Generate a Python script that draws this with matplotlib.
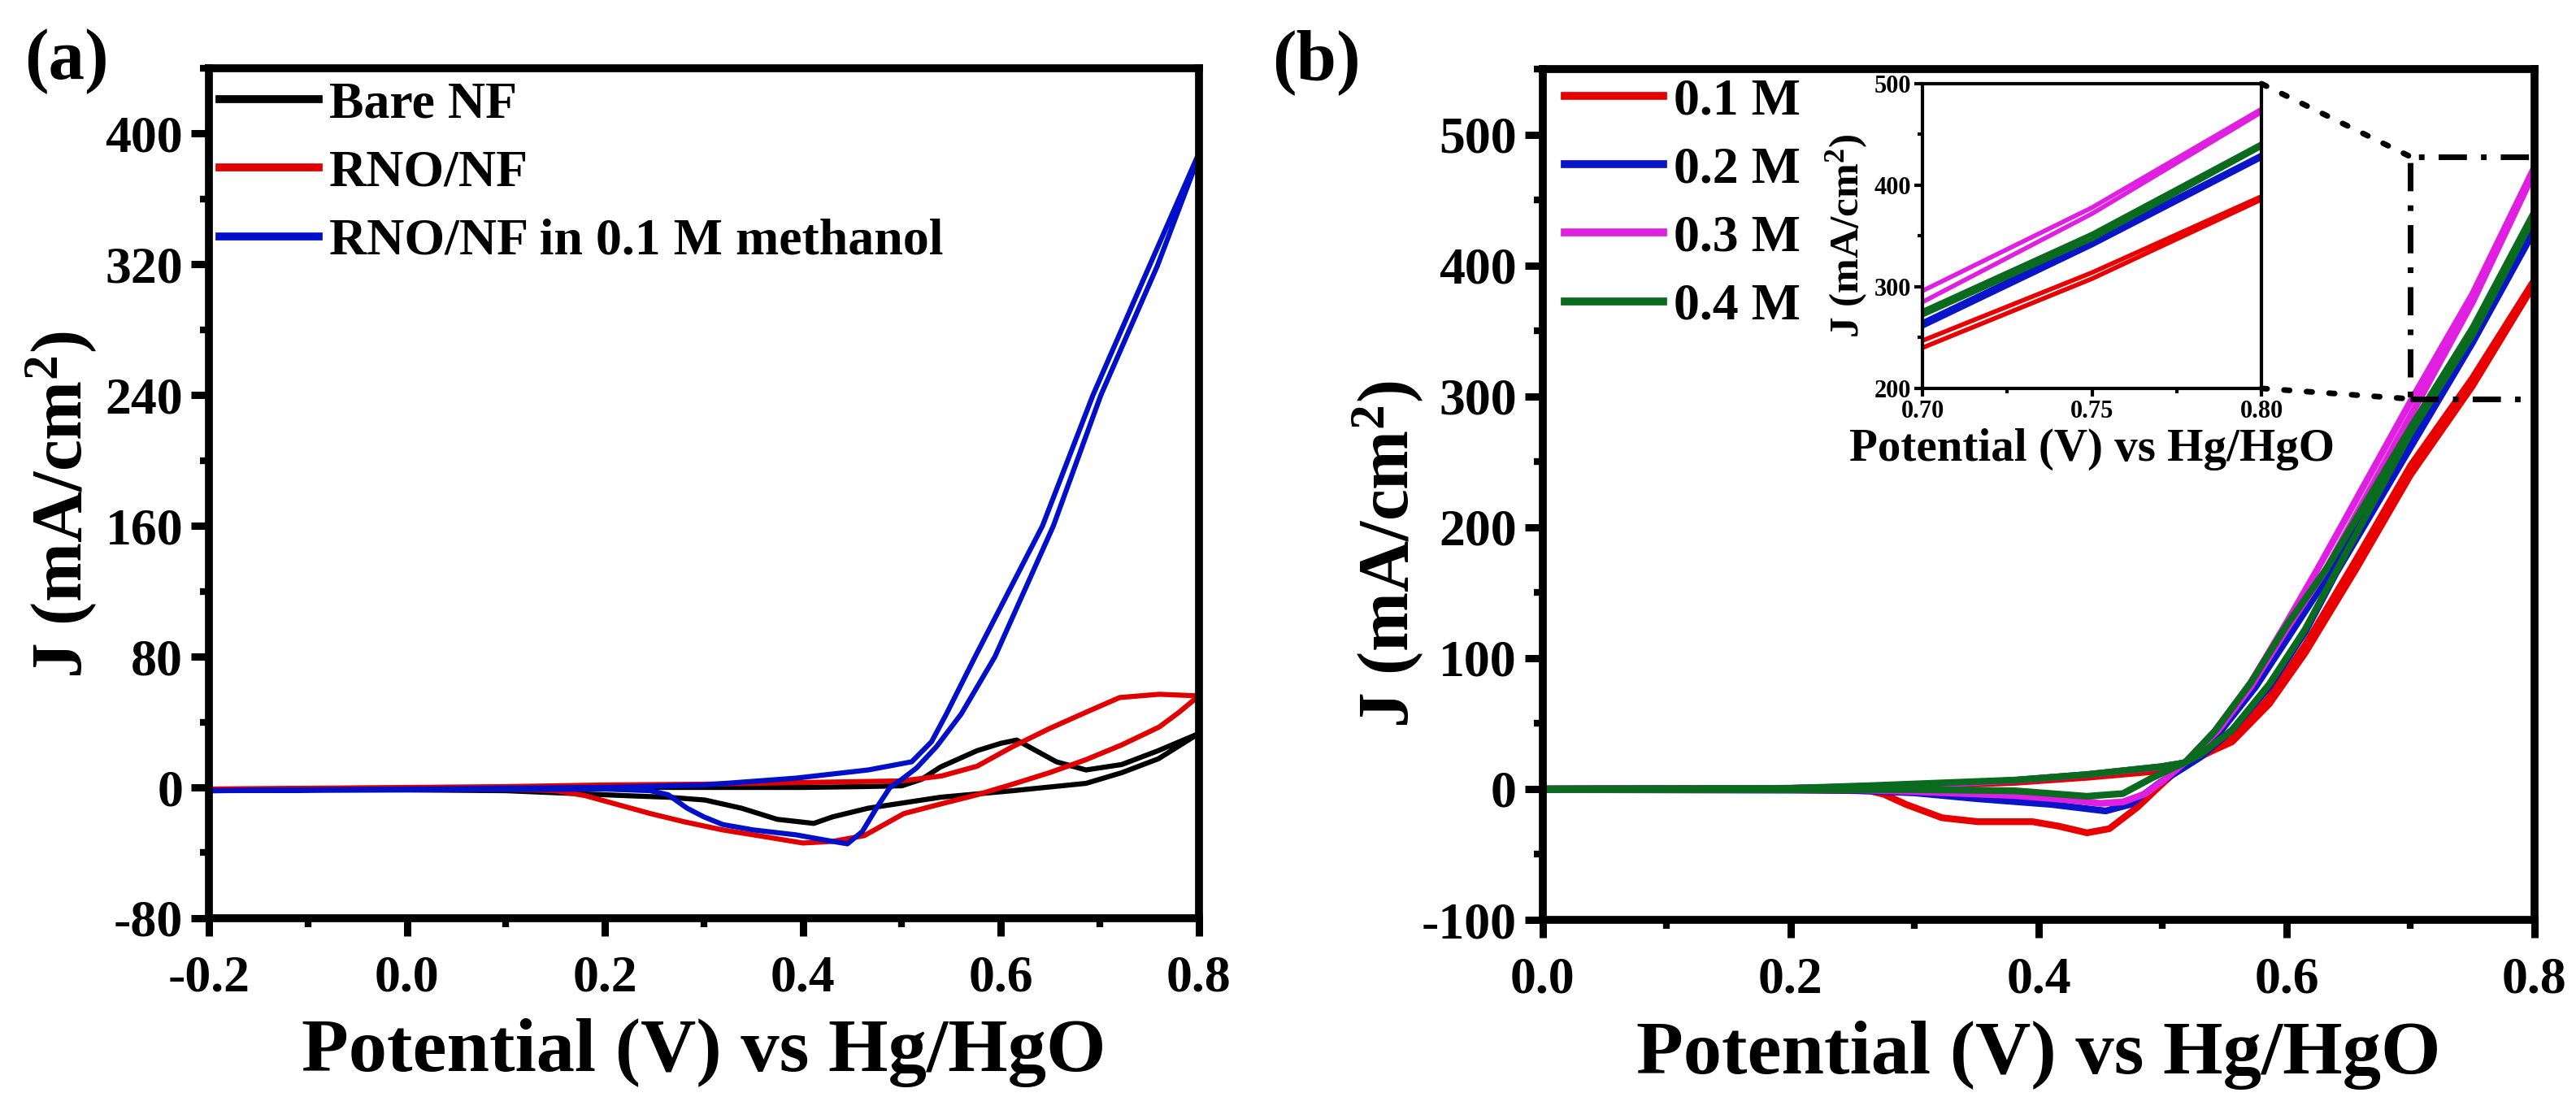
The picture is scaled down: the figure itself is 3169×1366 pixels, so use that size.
import matplotlib
matplotlib.use('Agg')
import matplotlib.pyplot as plt
from matplotlib.patches import Rectangle, ConnectionPatch
from matplotlib.ticker import MultipleLocator

plt.rcParams['font.family'] = ['Liberation Serif', 'DejaVu Serif']
plt.rcParams['font.weight'] = 'bold'
plt.rcParams['axes.unicode_minus'] = False
plt.rcParams['mathtext.fontset'] = 'custom'
plt.rcParams['mathtext.rm'] = 'Liberation Serif:bold'
plt.rcParams['mathtext.bf'] = 'Liberation Serif:bold'
plt.rcParams['mathtext.default'] = 'bf'

# ---- panel (a): CV curves, forward and reverse sweep ----
bare_v_fwd = [-0.2, 0.0, 0.2, 0.3, 0.4, 0.46, 0.5, 0.52, 0.539, 0.576, 0.6, 0.616, 0.631, 0.656, 0.686, 0.722, 0.759, 0.8]
bare_j_fwd = [-1.5, -0.5, 0, 0, 0, 0.5, 1, 5, 12.5, 22.5, 27, 29, 24, 15.7, 10.7, 14, 22.5, 33]
bare_v_rev = [0.8, 0.759, 0.722, 0.686, 0.612, 0.539, 0.466, 0.43, 0.411, 0.374, 0.338, 0.301, 0.264, 0.22, 0.1, 0.0, -0.2]
bare_j_rev = [33, 17.5, 9, 2.5, -2, -6, -12.7, -18, -22, -19.5, -12.7, -7.7, -6, -5, -2, -1.5, -1.5]

rno_v_fwd = [-0.2, 0.0, 0.1, 0.2, 0.3, 0.4, 0.5, 0.54, 0.576, 0.612, 0.649, 0.686, 0.72, 0.76, 0.8]
rno_j_fwd = [-1, 0, 0.5, 1.5, 2, 3, 4, 7, 13, 25, 36, 46, 55, 57, 56]
rno_v_rev = [0.8, 0.78, 0.76, 0.722, 0.686, 0.649, 0.612, 0.576, 0.54, 0.502, 0.462, 0.43, 0.4, 0.36, 0.319, 0.28, 0.246, 0.21, 0.18, 0.15, 0.1, 0.0, -0.2]
rno_j_rev = [56, 46, 37, 26, 17, 9, 2, -4.5, -10, -16, -29.5, -33, -34, -30, -26, -21, -16, -10, -5, -2, -1, -1, -1]

meoh_v_fwd = [-0.2, 0.0, 0.2, 0.3, 0.393, 0.466, 0.51, 0.53, 0.545, 0.574, 0.642, 0.693, 0.75, 0.8]
meoh_j_fwd = [-2, -1, 0, 1.5, 5.7, 10.7, 15.7, 28, 45, 80, 160, 240, 319, 388]
meoh_v_rev = [0.8, 0.758, 0.701, 0.653, 0.594, 0.56, 0.535, 0.515, 0.5, 0.488, 0.475, 0.46, 0.445, 0.43, 0.393, 0.35, 0.319, 0.3, 0.283, 0.264, 0.246, 0.2, 0.0, -0.2]
meoh_j_rev = [386, 319, 240, 160, 80, 45, 25, 12, 5, 0, -12, -27, -34.5, -33, -29, -26, -22.7, -18, -12.7, -4.5, -2, -1, -1.5, -2]

labels_a = ['Bare NF', 'RNO/NF', 'RNO/NF in 0.1 M methanol']
colors_a = ['black', '#e00000', '#0010c8']

# ---- panel (b): methanol concentrations ----
c1_v_fwd = [0.0, 0.2, 0.3, 0.38, 0.44, 0.5, 0.52, 0.556, 0.586, 0.615, 0.656, 0.7, 0.75, 0.8]
c1_j_fwd = [0, 0.5, 2, 5, 9, 14, 19, 38, 70, 110, 175, 247, 314, 389]
c1_v_rev = [0.8, 0.75, 0.7, 0.656, 0.615, 0.586, 0.556, 0.527, 0.515, 0.498, 0.48, 0.457, 0.439, 0.416, 0.395, 0.351, 0.322, 0.293, 0.275, 0.264, 0.2, 0.0]
c1_j_rev = [386, 308, 240, 168, 104, 65, 36, 23.6, 17, 2.5, -13.7, -30.4, -33.5, -28.4, -25, -25, -22, -11.8, -4, -1.5, -0.5, -0.5]

c2_v_fwd = [0.0, 0.2, 0.3, 0.38, 0.44, 0.5, 0.518, 0.545, 0.575, 0.6, 0.64, 0.7, 0.75, 0.8]
c2_j_fwd = [0, 0.5, 2.5, 6.5, 11, 17, 20, 42, 78, 114, 172, 265, 345, 430]
c2_v_rev = [0.8, 0.75, 0.7, 0.64, 0.615, 0.586, 0.556, 0.53, 0.515, 0.498, 0.474, 0.454, 0.41, 0.351, 0.3, 0.25, 0.0]
c2_j_rev = [427, 341, 261, 165, 120, 78, 45, 24, 15, 5, -11.8, -16.8, -11.8, -7.5, -3, -1, -0.5]

c3_v_fwd = [0.0, 0.2, 0.3, 0.38, 0.44, 0.5, 0.518, 0.542, 0.571, 0.6, 0.625, 0.7, 0.75, 0.8]
c3_j_fwd = [0, 0.5, 2.5, 6.5, 11, 17, 20, 44, 81, 127, 168, 296, 378, 475]
c3_v_rev = [0.8, 0.75, 0.7, 0.632, 0.6, 0.571, 0.545, 0.52, 0.5, 0.486, 0.468, 0.45, 0.42, 0.38, 0.3, 0.25, 0.0]
c3_j_rev = [472, 372, 285, 168, 122, 78, 45, 22, 6, -3.7, -9.9, -11, -8, -5, -2, -0.5, -0.5]

c4_v_fwd = [0.0, 0.2, 0.264, 0.381, 0.439, 0.498, 0.518, 0.542, 0.571, 0.6, 0.632, 0.7, 0.75, 0.8]
c4_j_fwd = [0, 0.5, 2.5, 6.8, 11, 17, 20, 44, 81, 125, 168, 276, 352, 441]
c4_v_rev = [0.8, 0.75, 0.7, 0.641, 0.615, 0.586, 0.556, 0.53, 0.515, 0.492, 0.468, 0.439, 0.381, 0.3, 0.0]
c4_j_rev = [438, 347, 272, 168, 122, 80, 45, 26, 19, 8.7, -3.5, -5.6, -1.4, -0.5, -0.5]

labels_b = ['0.1 M', '0.2 M', '0.3 M', '0.4 M']
colors_b = ['#e80000', '#0a14c8', '#e020e0', '#0a6a1e']

# zoom window shown by the inset
zoom_x = (0.70, 0.80)
zoom_box_j = (298, 483)

XLABEL = 'Potential (V) vs Hg/HgO'
YLABEL = 'J (mA/cm$^{2}$)'


def style_axes(ax):
    for s in ax.spines.values():
        s.set_linewidth(7)
    ax.tick_params(which='major', direction='out', length=16, width=6.5,
                   labelsize=46, top=False, right=False)
    ax.tick_params(which='minor', direction='out', length=8, width=6,
                   top=False, right=False)
    ax.tick_params(axis='x', which='major', pad=17)
    ax.tick_params(axis='y', which='major', pad=7)


fig = plt.figure(figsize=(31.69, 13.66), dpi=100)

# panel (a)
ax_a = fig.add_axes([0.0811, 0.1728, 0.3843, 0.7657])
curves_a = [(bare_v_fwd, bare_j_fwd, bare_v_rev, bare_j_rev),
            (rno_v_fwd, rno_j_fwd, rno_v_rev, rno_j_rev),
            (meoh_v_fwd, meoh_j_fwd, meoh_v_rev, meoh_j_rev)]
for (vf, jf, vr, jr), lab, col in zip(curves_a, labels_a, colors_a):
    ax_a.plot(vf + vr, jf + jr, color=col, lw=4.5, label=lab, solid_joinstyle='round')
ax_a.set_xlim(-0.2, 0.8)
ax_a.set_ylim(-80, 440)
ax_a.xaxis.set_minor_locator(MultipleLocator(0.1))
ax_a.yaxis.set_major_locator(MultipleLocator(80))
ax_a.yaxis.set_minor_locator(MultipleLocator(40))
ax_a.set_xticks([-0.2, 0.0, 0.2, 0.4, 0.6, 0.8])
ax_a.set_xticklabels(['-0.2', '0.0', '0.2', '0.4', '0.6', '0.8'])
style_axes(ax_a)
ax_a.set_xlabel(XLABEL, fontsize=68, fontweight='bold')
ax_a.set_ylabel(YLABEL, fontsize=63, fontweight='bold')
ax_a.yaxis.set_label_coords(-0.112, 0.486)
ax_a.xaxis.set_label_coords(0.5, -0.118)
leg_a = ax_a.legend(loc='upper left', bbox_to_anchor=(0.011, 0.985), frameon=False,
                    fontsize=46, handlelength=1.9, handletextpad=0.2,
                    labelspacing=0.4, borderpad=0, borderaxespad=0)
for h in leg_a.get_lines():
    h.set_linewidth(7)

# panel (b)
ax_b = fig.add_axes([0.5989, 0.1713, 0.385, 0.7665])
curves_b = [(c1_v_fwd, c1_j_fwd, c1_v_rev, c1_j_rev),
            (c2_v_fwd, c2_j_fwd, c2_v_rev, c2_j_rev),
            (c3_v_fwd, c3_j_fwd, c3_v_rev, c3_j_rev),
            (c4_v_fwd, c4_j_fwd, c4_v_rev, c4_j_rev)]
for (vf, jf, vr, jr), lab, col in zip(curves_b, labels_b, colors_b):
    ax_b.plot(vf + vr, jf + jr, color=col, lw=6, label=lab, solid_joinstyle='round')
ax_b.set_xlim(0.0, 0.8)
ax_b.set_ylim(-100, 550)
ax_b.xaxis.set_major_locator(MultipleLocator(0.2))
ax_b.xaxis.set_minor_locator(MultipleLocator(0.1))
ax_b.yaxis.set_major_locator(MultipleLocator(100))
ax_b.yaxis.set_minor_locator(MultipleLocator(50))
style_axes(ax_b)
ax_b.set_xlabel(XLABEL, fontsize=68, fontweight='bold')
ax_b.set_ylabel(YLABEL, fontsize=63, fontweight='bold')
ax_b.yaxis.set_label_coords(-0.119, 0.43)
ax_b.xaxis.set_label_coords(0.5, -0.118)
leg_b = ax_b.legend(loc='upper left', bbox_to_anchor=(0.022, 0.99), frameon=False,
                    fontsize=46, handlelength=1.9, handletextpad=0.2,
                    labelspacing=0.4, borderpad=0, borderaxespad=0)
for h in leg_b.get_lines():
    h.set_linewidth(7)

ax_b.add_patch(Rectangle((zoom_x[0], zoom_box_j[0]), zoom_x[1] - zoom_x[0],
                         zoom_box_j[1] - zoom_box_j[0], fill=False, edgecolor='black',
                         lw=5, linestyle=(0, (5, 2.5, 1, 2.5)), clip_on=False, zorder=5))

# inset
ax_in = fig.add_axes([0.7463, 0.6501, 0.1316, 0.2745])
for (vf, jf, vr, jr), col in zip(curves_b, colors_b):
    ax_in.plot(vf + vr, jf + jr, color=col, lw=4)
ax_in.set_xlim(*zoom_x)
ax_in.set_ylim(200, 500)
ax_in.set_xticks([0.70, 0.75, 0.80])
ax_in.set_xticklabels(['0.70', '0.75', '0.80'])
ax_in.xaxis.set_minor_locator(MultipleLocator(0.025))
ax_in.yaxis.set_major_locator(MultipleLocator(100))
ax_in.yaxis.set_minor_locator(MultipleLocator(50))
for s in ax_in.spines.values():
    s.set_linewidth(3)
ax_in.tick_params(which='major', direction='out', length=7, width=3, labelsize=22, pad=3)
ax_in.tick_params(which='minor', direction='out', length=4, width=3)
ax_in.set_xlabel(XLABEL, fontsize=41, fontweight='bold', labelpad=4)
ax_in.set_ylabel(YLABEL, fontsize=37, fontweight='bold', labelpad=4)

for xa, xb in [((1, 1), (zoom_x[0], zoom_box_j[1])), ((1, 0), (zoom_x[0], zoom_box_j[0]))]:
    con = ConnectionPatch(xyA=xa, coordsA=ax_in.transAxes, xyB=xb, coordsB=ax_b.transData,
                          color='black', lw=5, linestyle=(0, (1, 3)))
    fig.add_artist(con)

fig.text(0.026, 0.945, '(a)', fontsize=64, fontweight='bold', ha='center', va='center')
fig.text(0.511, 0.944, '(b)', fontsize=64, fontweight='bold', ha='center', va='center')

fig.savefig('out.png', dpi=100)
